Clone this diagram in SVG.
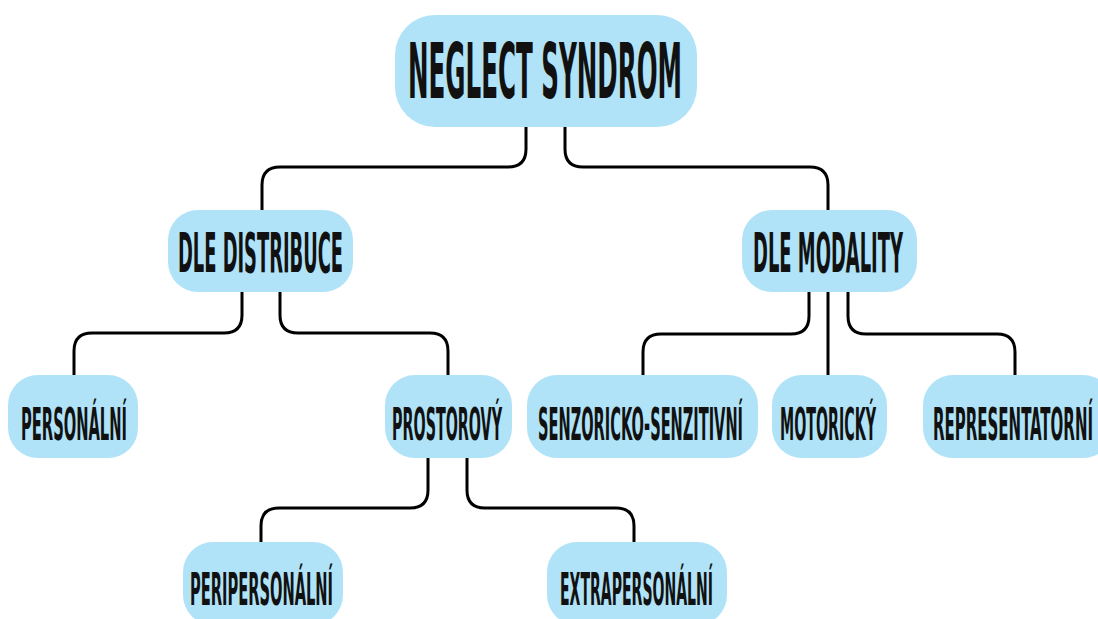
<svg xmlns="http://www.w3.org/2000/svg" width="1098" height="619" viewBox="0 0 1098 619">
  <style>
    .box { fill: #b0e3f7; }
    .lbl { font-family: "DejaVu Sans Condensed", "Liberation Sans Narrow", "Liberation Sans", sans-serif; font-stretch: condensed; font-weight: bold; fill: #111111; text-anchor: middle; }
    .conn { fill: none; stroke: #000000; stroke-width: 3; stroke-linecap: round; }
  </style>
  <rect x="0" y="0" width="1098" height="619" fill="#ffffff"/>
  <g id="connectors">
    <path class="conn" d="M526,127 V149 Q526,167 508,167 H280 Q262,167 262,185 V210"/>
    <path class="conn" d="M565,127 V149 Q565,167 583,167 H810 Q828,167 828,185 V210"/>
    <path class="conn" d="M242,292 V315 Q242,333 224,333 H92 Q74,333 74,351 V375"/>
    <path class="conn" d="M280,292 V315 Q280,333 298,333 H430 Q448,333 448,351 V375"/>
    <path class="conn" d="M809,292 V316 Q809,334 791,334 H661 Q643,334 643,352 V375"/>
    <path class="conn" d="M828,292 V375"/>
    <path class="conn" d="M848,292 V316 Q848,334 866,334 H997 Q1015,334 1015,352 V375"/>
    <path class="conn" d="M428,458 V490 Q428,508 410,508 H279 Q261,508 261,526 V542"/>
    <path class="conn" d="M467,458 V490 Q467,508 485,508 H616 Q634,508 634,526 V542"/>
  </g>
  <g id="neglect-syndrom">
    <rect class="box" x="395" y="15" width="302" height="112" rx="40"/>
    <text class="lbl" x="545" y="98" font-size="76" textLength="274" lengthAdjust="spacingAndGlyphs">NEGLECT SYNDROM</text>
  </g>
  <g id="dle-distribuce">
    <rect class="box" x="168" y="210" width="185" height="82" rx="30"/>
    <text class="lbl" x="260.5" y="272" font-size="55" textLength="165" lengthAdjust="spacingAndGlyphs">DLE DISTRIBUCE</text>
  </g>
  <g id="dle-modality">
    <rect class="box" x="742" y="210" width="175" height="82" rx="30"/>
    <text class="lbl" x="828" y="272" font-size="55" textLength="150" lengthAdjust="spacingAndGlyphs">DLE MODALITY</text>
  </g>
  <g id="personalni">
    <rect class="box" x="8" y="375" width="130" height="83" rx="30"/>
    <text class="lbl" x="74" y="440" font-size="44" textLength="106" lengthAdjust="spacingAndGlyphs">PERSONÁLNÍ</text>
  </g>
  <g id="prostorovy">
    <rect class="box" x="385" y="375" width="127" height="83" rx="30"/>
    <text class="lbl" x="447" y="440" font-size="44" textLength="110" lengthAdjust="spacingAndGlyphs">PROSTOROVÝ</text>
  </g>
  <g id="senzoricko-senzitivni">
    <rect class="box" x="527" y="375" width="231" height="83" rx="30"/>
    <text class="lbl" x="640.5" y="440" font-size="44" textLength="205" lengthAdjust="spacingAndGlyphs">SENZORICKO-SENZITIVNÍ</text>
  </g>
  <g id="motoricky">
    <rect class="box" x="772" y="375" width="115" height="83" rx="30"/>
    <text class="lbl" x="828" y="440" font-size="44" textLength="96" lengthAdjust="spacingAndGlyphs">MOTORICKÝ</text>
  </g>
  <g id="representatorni">
    <rect class="box" x="923" y="375" width="190" height="83" rx="30"/>
    <text class="lbl" x="1013" y="440" font-size="44" textLength="160" lengthAdjust="spacingAndGlyphs">REPRESENTATORNÍ</text>
  </g>
  <g id="peripersonalni">
    <rect class="box" x="183" y="542" width="160" height="83" rx="30"/>
    <text class="lbl" x="261.5" y="605" font-size="44" textLength="143" lengthAdjust="spacingAndGlyphs">PERIPERSONÁLNÍ</text>
  </g>
  <g id="extrapersonalni">
    <rect class="box" x="547" y="542" width="180" height="83" rx="30"/>
    <text class="lbl" x="636.5" y="605" font-size="44" textLength="153" lengthAdjust="spacingAndGlyphs">EXTRAPERSONÁLNÍ</text>
  </g>
</svg>
